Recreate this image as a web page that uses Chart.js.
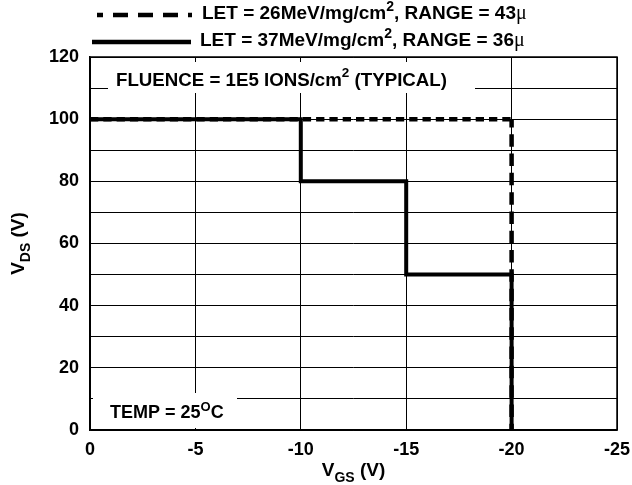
<!DOCTYPE html>
<html>
<head>
<meta charset="utf-8">
<script src="https://cdn.jsdelivr.net/npm/chart.js@4.4.1/dist/chart.umd.min.js"></script>
<style>
  html, body { margin: 0; padding: 0; background: #fff; }
  #wrap { width: 632px; height: 485px; }
</style>
</head>
<body>
<div id="wrap"><canvas id="myChart" width="632" height="485"></canvas></div>
<script>
// Series data (VGS in volts, VDS in volts)
const vgs26 = [0, -20, -20];
const vds26 = [100, 100, 0];
const vgs37 = [0, -10, -10, -15, -15, -20, -20];
const vds37 = [100, 100, 80, 80, 50, 50, 0];

// Legend values
const letValues = [26, 37];
const rangeValues = [43, 36];

// Tick labels
const vgsTicks = [0, -5, -10, -15, -20, -25];
const vdsTicks = [0, 20, 40, 60, 80, 100, 120];

const SANS = '"Liberation Sans", Arial, Helvetica, sans-serif';
const SERIF = '"Liberation Serif", "Times New Roman", serif';

// Draw a run of text pieces (supports super/subscript), returns width
function richText(ctx, parts, x, y, measureOnly) {
    let cx = x;
    parts.forEach((p) => {
        const size = p.size || 18;
        ctx.font = (p.serif ? '' : 'bold ') + size + 'px ' + (p.serif ? SERIF : SANS);
        if (!measureOnly) ctx.fillText(p.t, cx, y + (p.dy || 0));
        cx += ctx.measureText(p.t).width;
    });
    return cx - x;
}

function legendParts(i) {
    return [
        { t: 'LET = ' + letValues[i] + 'MeV/mg/cm', size: 19 },
        { t: '2', size: 14, dy: -8 },
        { t: ', RANGE = ' + rangeValues[i], size: 19 },
        { t: 'μ', serif: true, size: 20 }
    ];
}

// Annotations, legend, axis titles and frame
const decorations = {
    id: 'decorations',
    beforeDatasetsDraw(chart) {
        const { ctx, chartArea: a } = chart;
        ctx.save();
        ctx.textAlign = 'left';
        ctx.textBaseline = 'alphabetic';

        // white boxes behind the notes
        ctx.fillStyle = '#fff';
        ctx.fillRect(a.left + 18, a.top + 5, 367, 31);
        ctx.fillRect(a.left + 3, a.bottom - 37, 144, 35);

        ctx.fillStyle = '#000';
        richText(ctx, [
            { t: 'FLUENCE = 1E5 IONS/cm', size: 18.7 },
            { t: '2', size: 13.5, dy: -9 },
            { t: ' (TYPICAL)', size: 18.7 }
        ], a.left + 26, a.top + 29);

        richText(ctx, [
            { t: 'TEMP = 25' },
            { t: 'O', size: 13, dy: -7 },
            { t: 'C' }
        ], a.left + 20, a.bottom - 12);

        // frame
        ctx.strokeStyle = '#000';
        ctx.lineWidth = 1.5;
        ctx.strokeRect(a.left, a.top, a.right - a.left, a.bottom - a.top);
        ctx.restore();
    },
    afterDraw(chart) {
        const { ctx, chartArea: a } = chart;
        ctx.save();
        ctx.fillStyle = '#000';
        ctx.strokeStyle = '#000';
        ctx.textBaseline = 'alphabetic';

        // legend
        ctx.lineWidth = 4.5;
        ctx.lineCap = 'butt';
        ctx.setLineDash([15, 10]);
        ctx.lineDashOffset = 9;
        ctx.beginPath();
        ctx.moveTo(97, 15);
        ctx.lineTo(192, 15);
        ctx.stroke();
        ctx.setLineDash([]);
        ctx.beginPath();
        ctx.moveTo(92, 42);
        ctx.lineTo(191, 42);
        ctx.stroke();
        richText(ctx, legendParts(0), 202, 19);
        richText(ctx, legendParts(1), 200, 46);

        // x axis title
        const xt = [
            { t: 'V', size: 19 },
            { t: 'GS', size: 14, dy: 6 },
            { t: ' (V)', size: 19 }
        ];
        const cx = (a.left + a.right) / 2;
        const wx = richText(ctx, xt, 0, 0, true);
        richText(ctx, xt, cx - wx / 2, 476);

        // y axis title
        const yt = [
            { t: 'V', size: 19 },
            { t: 'DS', size: 14, dy: 6 },
            { t: ' (V)', size: 19 }
        ];
        const wy = richText(ctx, yt, 0, 0, true);
        ctx.translate(24, (a.top + a.bottom) / 2);
        ctx.rotate(-Math.PI / 2);
        richText(ctx, yt, -wy / 2, 0);
        ctx.restore();
    }
};

function toPoints(xs, ys) {
    return xs.map((v, i) => ({ x: v, y: ys[i] }));
}

new Chart(document.getElementById('myChart'), {
    type: 'line',
    data: {
        datasets: [{
            label: 'LET = 37MeV/mg/cm², RANGE = 36μ',
            data: toPoints(vgs37, vds37),
            borderColor: '#000',
            borderWidth: 4,
            borderJoinStyle: 'miter',
            borderCapStyle: 'butt',
            pointRadius: 0,
            tension: 0,
            fill: false,
            order: 1
        }, {
            label: 'LET = 26MeV/mg/cm², RANGE = 43μ',
            data: toPoints(vgs26, vds26),
            borderColor: '#000',
            borderWidth: 4.5,
            borderJoinStyle: 'miter',
            borderCapStyle: 'butt',
            pointRadius: 0,
            tension: 0,
            fill: false,
            order: 2,
            segment: {
                // horizontal runs have tighter dashes than the vertical one
                borderDash: (c) => c.p0.parsed.y === c.p1.parsed.y ? [8.3, 5] : [8.3, 11]
            }
        }]
    },
    options: {
        responsive: false,
        animation: false,
        devicePixelRatio: 1,
        layout: { padding: { top: 57, right: 0, left: 0, bottom: 0 } },
        plugins: {
            legend: { display: false },
            tooltip: { enabled: false }
        },
        scales: {
            x: {
                type: 'linear',
                min: -25,
                max: 0,
                reverse: true,
                afterFit: (s) => {
                    s.height = 55;
                    // keep the plot frame where the original has it
                    s.paddingRight = 15;
                    s.paddingLeft = 0;
                },
                afterBuildTicks: (s) => { s.ticks = vgsTicks.map((v) => ({ value: v })); },
                ticks: {
                    color: '#000',
                    padding: 9,
                    font: { family: SANS, size: 18, weight: 'bold' }
                },
                grid: { color: '#000', lineWidth: 1, drawTicks: false },
                border: { color: '#000', width: 1.5 }
            },
            y: {
                min: 0,
                max: 120,
                afterFit: (s) => { s.width = 90; },
                ticks: {
                    stepSize: 10,
                    color: '#000',
                    padding: 11,
                    font: { family: SANS, size: 18, weight: 'bold' },
                    callback: (v) => vdsTicks.includes(v) ? v : ''
                },
                grid: { color: '#000', lineWidth: 1, drawTicks: false },
                border: { color: '#000', width: 1.5 }
            }
        }
    },
    plugins: [decorations]
});
</script>
</body>
</html>
